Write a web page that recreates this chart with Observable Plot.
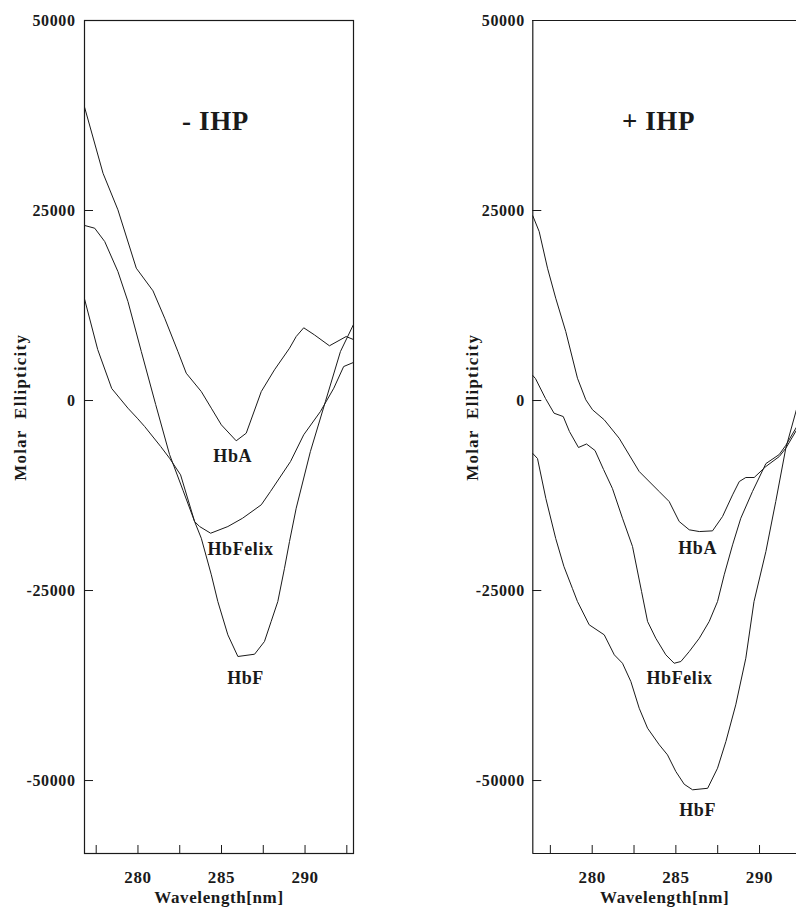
<!DOCTYPE html>
<html><head><meta charset="utf-8">
<script src="https://cdn.jsdelivr.net/npm/d3@7"></script>
<script src="https://cdn.jsdelivr.net/npm/@observablehq/plot@0.6"></script>
<style>
html,body{margin:0;padding:0;background:#fff;overflow:hidden;}
#wrap{position:relative;width:796px;height:909px;}
#wrap svg{position:absolute;top:0;}
#wrap svg text{letter-spacing:0.6px;}
</style></head><body><div id="wrap"></div>
<script>
// ---- Tick values ----
const yTicks = [50000, 25000, 0, -25000, -50000];
const xMajorTicks = [280, 285, 290];
const xMinorTicks = [277.5, 282.5, 287.5, 292.5];

// ---- Panel titles / labels ----
const panelTitles = ["- IHP", "+ IHP"];
const seriesNames = ["HbA", "HbFelix", "HbF"];
const yAxisLabel = "Molar  Ellipticity";
const xAxisLabel = "Wavelength[nm]";

// ---- Left panel (- IHP) ----
const minusHbA_nm  = [276.81, 277.91, 278.80, 279.90, 280.90, 281.60, 282.39, 282.89, 283.79, 284.39, 284.99, 285.88, 286.48, 287.38, 288.17, 289.07, 289.47, 289.92, 290.56, 291.46, 292.46, 292.89];
const minusHbA_val = [38550, 29900, 25090, 17410, 14430, 10830, 6450, 3590, 1180, -1010, -3200, -5300, -4300, 1180, 4040, 6880, 8420, 9570, 8640, 7200, 8420, 8030];

const minusHbFelix_nm  = [276.81, 277.59, 278.43, 279.40, 279.96, 280.40, 281.36, 281.89, 282.55, 283.39, 283.69, 284.35, 285.38, 286.26, 287.38, 287.93, 289.13, 289.92, 290.92, 291.72, 292.31, 292.89];
const minusHbFelix_val = [13290, 6710, 1580, -1010, -2330, -3420, -6050, -7590, -9780, -15920, -16580, -17460, -16580, -15490, -13720, -11970, -8030, -4510, -1450, 1620, 4470, 5000];

const minusHbF_nm  = [276.81, 277.41, 278.01, 278.80, 279.40, 280.20, 281.06, 281.89, 282.70, 283.39, 283.79, 284.39, 284.78, 285.38, 285.98, 286.98, 287.57, 287.97, 288.37, 288.77, 289.07, 289.47, 290.32, 291.22, 292.12, 292.89];
const minusHbF_val = [23030, 22670, 20920, 16970, 13030, 6450, -530, -7100, -11840, -15920, -18120, -22930, -26450, -30830, -33680, -33380, -31710, -29080, -26450, -22070, -18550, -14170, -6710, -130, 6450, 9960];

// ---- Right panel (+ IHP) ----
const plusHbA_nm  = [276.45, 276.83, 277.33, 277.82, 278.42, 279.12, 279.62, 280.02, 280.72, 281.61, 282.81, 284.00, 284.60, 285.20, 285.80, 286.40, 287.19, 287.79, 288.39, 288.79, 289.18, 289.68, 290.38, 291.18, 291.57, 292.21];
const plusHbA_val = [24300, 22240, 17410, 13460, 9080, 2930, 90, -1220, -2540, -4960, -9340, -11970, -13290, -15920, -17010, -17240, -17150, -15260, -12410, -10660, -10130, -10130, -8680, -7370, -6280, -3900];

const plusHbFelix_nm  = [276.45, 276.61, 277.21, 277.72, 278.27, 278.64, 279.18, 279.66, 280.17, 280.68, 281.21, 281.81, 282.41, 282.95, 283.31, 283.80, 284.40, 284.90, 285.30, 285.80, 286.40, 286.99, 287.49, 287.89, 288.39, 288.88, 289.58, 290.38, 291.18, 291.57, 292.21];
const plusHbFelix_val = [3290, 2890, 260, -1670, -2110, -4080, -6180, -5720, -6580, -9080, -11580, -15490, -19210, -25130, -29080, -31280, -33460, -34570, -34340, -33030, -31280, -29080, -26450, -22930, -18990, -15490, -11970, -8300, -7100, -5900, -3500];

const plusHbF_nm  = [276.45, 276.73, 277.23, 277.82, 278.31, 278.82, 279.12, 279.82, 280.72, 281.32, 281.81, 282.31, 282.81, 283.31, 284.01, 284.50, 285.00, 285.50, 286.00, 286.90, 287.49, 287.99, 288.58, 289.18, 289.67, 290.38, 290.97, 291.57, 292.21];
const plusHbF_val = [-6970, -7630, -12890, -18160, -21840, -24740, -26450, -29510, -30830, -33460, -34570, -36970, -40490, -43120, -45300, -46620, -48820, -50490, -51220, -51020, -48380, -44870, -40040, -33910, -26450, -19870, -13290, -6280, -1180];

// ---- Label anchor points (data space) ----
const minusLabelNm  = [285.67, 286.14, 286.44];
const minusLabelVal = [-7370, -19600, -36580];
const plusLabelNm   = [286.30, 285.22, 286.30];
const plusLabelVal  = [-19470, -36580, -53950];

// ---- Build tables ----
function rows(name, nm, val) { return nm.map((x, i) => ({series: name, nm: x, val: val[i]})); }
const minusRows = [
  ...rows("HbA", minusHbA_nm, minusHbA_val),
  ...rows("HbFelix", minusHbFelix_nm, minusHbFelix_val),
  ...rows("HbF", minusHbF_nm, minusHbF_val)
];
const plusRows = [
  ...rows("HbA", plusHbA_nm, plusHbA_val),
  ...rows("HbFelix", plusHbFelix_nm, plusHbFelix_val),
  ...rows("HbF", plusHbF_nm, plusHbF_val)
];
const minusLabels = seriesNames.map((s, i) => ({text: s, nm: minusLabelNm[i], val: minusLabelVal[i]}));
const plusLabels = seriesNames.map((s, i) => ({text: s, nm: plusLabelNm[i], val: plusLabelVal[i]}));

const H = 909, MT = 20, MB = 56;
const Y_DOMAIN = [-59600, 50000];
const FONT = "'Liberation Serif', 'Times New Roman', serif";
const INK = "#1a1a1a";

function makePanel(cfg) {
  const innerW = cfg.width - cfg.marginLeft - cfg.marginRight;
  const innerH = H - MT - MB;
  const ticksAll = [...xMajorTicks, ...xMinorTicks].filter(t => t >= cfg.xDomain[0] && t <= cfg.xDomain[1]);
  const marks = [];
  if (cfg.fullFrame) {
    marks.push(Plot.frame({stroke: INK, strokeWidth: 1.2}));
  } else {
    marks.push(Plot.ruleX([cfg.xDomain[0]], {stroke: INK, strokeWidth: 1.2}));
    marks.push(Plot.ruleY(Y_DOMAIN, {stroke: INK, strokeWidth: 1.2}));
  }
  marks.push(
    Plot.tickX(ticksAll, {x: d => d, insetTop: innerH - 8, stroke: INK}),
    Plot.tickY(yTicks, {y: d => d, insetRight: innerW - 9, stroke: INK}),
    Plot.axisX(xMajorTicks, {tickSize: 0, tickPadding: 17, tickFormat: d => String(d), fontSize: 17, label: null}),
    Plot.axisY(yTicks, {tickSize: 0, tickPadding: cfg.yPad, tickFormat: d => String(d), fontSize: 16, label: null}),
    Plot.line(cfg.rows, {x: "nm", y: "val", z: "series", stroke: INK, strokeWidth: 1}),
    Plot.text(cfg.labels, {x: "nm", y: "val", text: "text", fontSize: 18}),
    Plot.text([cfg.title], {x: () => cfg.titleNm, y: () => 36710, text: d => d, fontSize: 27}),
    Plot.text([yAxisLabel], {y: () => -900, frameAnchor: "left", textAnchor: "middle", dx: cfg.yLabelDx, rotate: -90, text: d => d, fontSize: 17}),
    Plot.text([xAxisLabel], {frameAnchor: "bottom", dy: 49, text: d => d, fontSize: 17})
  );
  const svg = Plot.plot({
    width: cfg.width, height: H,
    marginLeft: cfg.marginLeft, marginRight: cfg.marginRight, marginTop: MT, marginBottom: MB,
    x: {domain: cfg.xDomain, axis: null},
    y: {domain: Y_DOMAIN, axis: null},
    style: {fontFamily: FONT, fontWeight: "bold", color: INK, background: "transparent", overflow: "visible"},
    marks
  });
  d3.select(svg).selectAll("text").filter(function() { return this.textContent === yAxisLabel; })
    .style("letter-spacing", "1.2px");
  svg.style.left = cfg.left + "px";
  return svg;
}

const wrap = document.getElementById("wrap");
wrap.appendChild(makePanel({
  left: 0, width: 400, marginLeft: 84, marginRight: 47,
  xDomain: [276.8, 292.9], rows: minusRows, labels: minusLabels,
  title: panelTitles[0], titleNm: 284.64, fullFrame: true, yPad: 9, yLabelDx: -64
}));
wrap.appendChild(makePanel({
  left: 400, width: 396, marginLeft: 132.3, marginRight: 0,
  xDomain: [276.45, 292.21], rows: plusRows, labels: plusLabels,
  title: panelTitles[1], titleNm: 283.96, fullFrame: false, yPad: 8, yLabelDx: -60
}));
</script></body></html>
